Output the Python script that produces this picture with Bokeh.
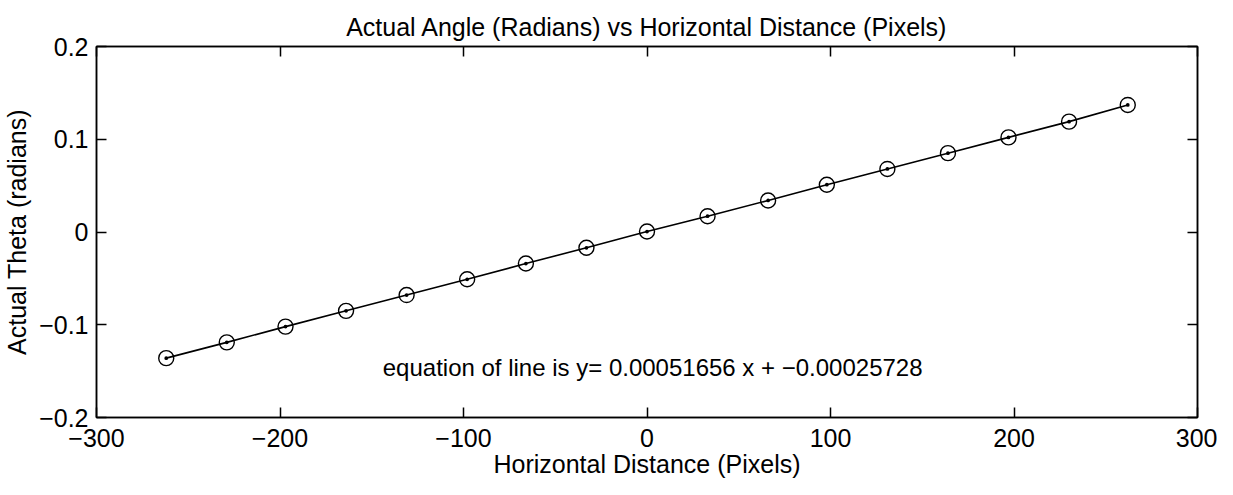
from bokeh.plotting import figure
from bokeh.models import LinearAxis, FixedTicker, Label, Range1d
from bokeh.embed import file_html
from bokeh.resources import INLINE

# ---- data ----
x_pixels = [-262, -229, -197, -164, -131, -98, -66, -33, 0, 33, 66, 98, 131, 164, 197, 230, 262]
theta = [-0.136, -0.119, -0.102, -0.085, -0.068, -0.051, -0.034, -0.017, 0.0005,
         0.017, 0.034, 0.051, 0.068, 0.085, 0.102, 0.119, 0.137]

x_ticks = [-300, -200, -100, 0, 100, 200, 300]
x_tick_labels = ["\u2212300", "\u2212200", "\u2212100", "0", "100", "200", "300"]
y_ticks = [-0.2, -0.1, 0, 0.1, 0.2]
y_tick_labels = ["\u22120.2", "\u22120.1", "0", "0.1", "0.2"]

title_text = "Actual Angle (Radians) vs Horizontal Distance (Pixels)"
x_label = "Horizontal Distance (Pixels)"
y_label = "Actual Theta (radians)"
equation_text = "equation of line is y= 0.00051656 x + \u22120.00025728"
equation_pos = (-144, -0.146)

FONT = "Liberation Sans"

p = figure(width=1217, height=487,
           x_range=Range1d(-300, 300), y_range=Range1d(-0.2, 0.2),
           output_backend="svg", toolbar_location=None,
           min_border_left=95, min_border_right=20,
           min_border_top=46, min_border_bottom=70,
           x_axis_label=x_label, y_axis_label=y_label)

p.title.text = title_text
p.title.align = "center"
p.title.text_font = FONT
p.title.text_font_size = "25px"
p.title.text_font_style = "normal"
p.title.text_color = "black"
p.title.standoff = 12

p.grid.visible = False
p.background_fill_color = "white"
p.border_fill_color = "white"
p.outline_line_color = "black"
p.outline_line_width = 1.5

def style_axis(ax, labels=True):
    ax.axis_line_color = "black"
    ax.axis_line_width = 1.5
    ax.major_tick_line_color = "black"
    ax.major_tick_line_width = 1.5
    ax.major_tick_in = 10
    ax.major_tick_out = 0
    ax.minor_tick_line_color = None
    ax.major_label_text_font = FONT
    ax.axis_label_text_font = FONT
    ax.axis_label_text_font_size = "25px"
    ax.axis_label_text_font_style = "normal"
    ax.axis_label_text_color = "black"
    if labels:
        ax.major_label_text_font_size = "25px"
        ax.major_label_text_color = "black"
    else:
        ax.major_label_text_font_size = "1px"
        ax.major_label_text_color = None
        ax.major_label_standoff = 0

xa = p.xaxis[0]
xa.ticker = FixedTicker(ticks=x_ticks)
xa.major_label_overrides = dict(zip(x_ticks, x_tick_labels))
style_axis(xa)
xa.major_label_standoff = 11
xa.axis_label_standoff = 0

ya = p.yaxis[0]
ya.ticker = FixedTicker(ticks=y_ticks)
ya.major_label_overrides = dict(zip(y_ticks, y_tick_labels))
style_axis(ya)
ya.major_label_standoff = 8
ya.axis_label_standoff = 5

top_ax = LinearAxis(ticker=FixedTicker(ticks=x_ticks))
style_axis(top_ax, labels=False)
p.add_layout(top_ax, "above")

right_ax = LinearAxis(ticker=FixedTicker(ticks=y_ticks))
style_axis(right_ax, labels=False)
p.add_layout(right_ax, "right")

p.line(x_pixels, theta, line_color="black", line_width=1.6)
p.scatter(x_pixels, theta, marker="circle_dot", size=15,
          fill_color=None, line_color="black", line_width=1.4)

eq = Label(x=equation_pos[0], y=equation_pos[1], text=equation_text,
           text_font=FONT, text_font_size="24px", text_color="black",
           text_baseline="middle", text_align="left")
p.add_layout(eq)

open("out.html", "w").write(file_html(p, INLINE))
